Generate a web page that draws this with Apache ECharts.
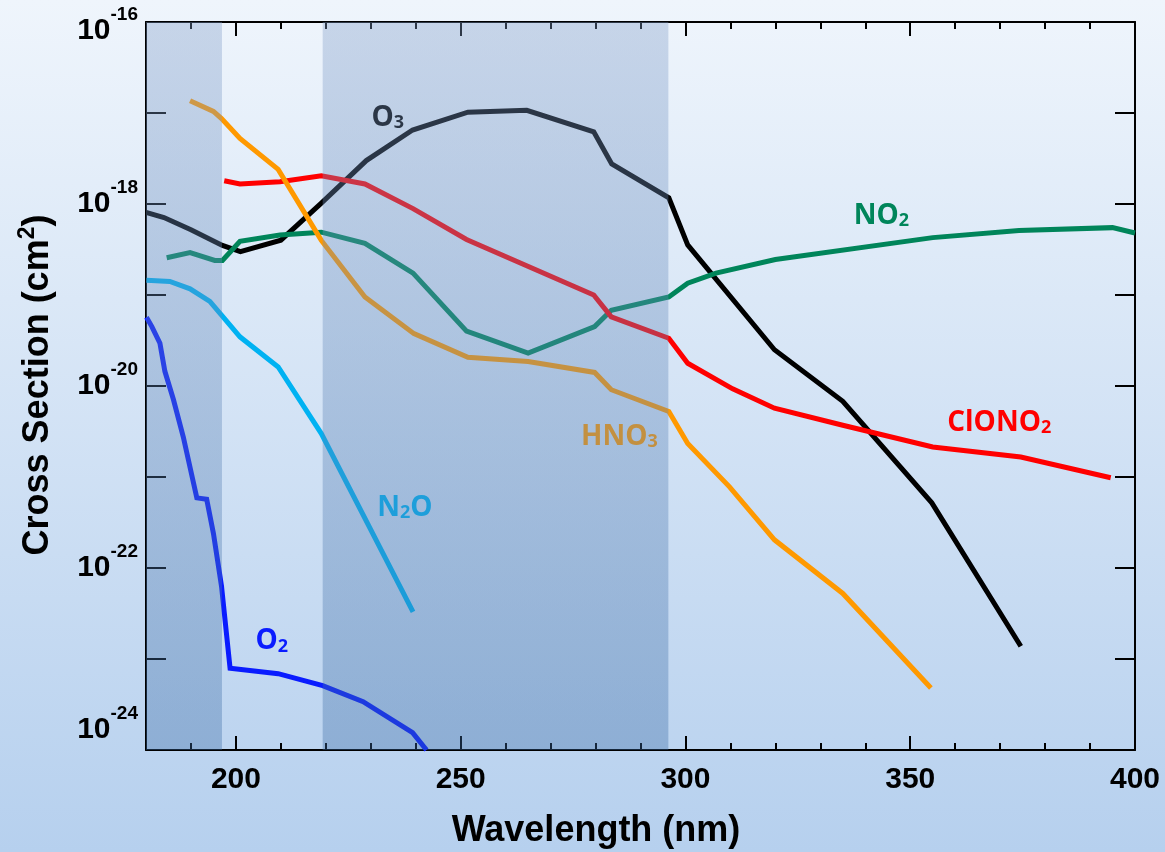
<!DOCTYPE html>
<html>
<head>
<meta charset="utf-8">
<script src="https://cdn.jsdelivr.net/npm/echarts@6/dist/echarts.min.js"></script>
<style>
html,body{margin:0;padding:0;width:1165px;height:852px;overflow:hidden;}
#chart{width:1165px;height:852px;}
</style>
</head>
<body>
<div id="chart"></div>
<script>
// ---------- data (wavelength nm, cross section cm^2) ----------
const o3Wl   = [180, 184, 190, 197, 201, 210, 219, 229, 239.3, 251.6, 264.7, 279.6, 283.6, 296.3, 300.5, 319.8, 335, 354.8, 374.6];
const o3Xs   = [8.1e-19, 7.1e-19, 5.2e-19, 3.5e-19, 3.0e-19, 4.0e-19, 1.02e-18, 3.0e-18, 6.5e-18, 1.02e-17, 1.07e-17, 6.2e-18, 2.75e-18, 1.17e-18, 3.55e-19, 2.5e-20, 6.8e-21, 5.2e-22, 1.38e-23];

const no2Wl  = [184.6, 189.8, 195.3, 197, 200.9, 209.8, 219, 228.7, 239.4, 251.3, 265, 279.8, 283.5, 296.3, 300.5, 306.8, 320, 355, 374.2, 395, 400];
const no2Xs  = [2.57e-19, 2.92e-19, 2.4e-19, 2.4e-19, 3.9e-19, 4.57e-19, 4.9e-19, 3.7e-19, 1.74e-19, 4.0e-20, 2.3e-20, 4.5e-20, 6.8e-20, 9.5e-20, 1.35e-19, 1.74e-19, 2.45e-19, 4.27e-19, 5.1e-19, 5.5e-19, 4.8e-19];

const clono2Wl = [197.4, 200.9, 209.8, 219, 228.7, 239.4, 251.3, 279.6, 283.5, 296.3, 300.5, 310.5, 319.8, 335, 355, 374.6, 394.6];
const clono2Xs = [1.8e-18, 1.66e-18, 1.76e-18, 2.04e-18, 1.66e-18, 8.9e-19, 4.07e-19, 1.0e-19, 5.75e-20, 3.35e-20, 1.78e-20, 9.3e-21, 5.7e-21, 3.7e-21, 2.14e-21, 1.66e-21, 9.8e-22];

const hno3Wl = [189.8, 195, 196.8, 200.9, 209.4, 219, 228.7, 239.6, 251.6, 265, 279.8, 283.5, 296.3, 300.5, 309.8, 319.8, 335, 354.6];
const hno3Xs = [1.36e-17, 1.04e-17, 8.7e-18, 5.25e-18, 2.4e-18, 3.98e-19, 9.5e-20, 3.76e-20, 2.07e-20, 1.86e-20, 1.41e-20, 9.1e-21, 5.25e-21, 2.34e-21, 7.8e-22, 2.04e-22, 5.25e-23, 4.8e-24];

const n2oWl  = [180.1, 185.3, 189.8, 194.2, 196.8, 200.9, 209.4, 219, 239.4];
const n2oXs  = [1.45e-19, 1.41e-19, 1.17e-19, 8.5e-20, 6.0e-20, 3.47e-20, 1.62e-20, 3.0e-21, 3.3e-23];

const o2Wl   = [180.1, 181.3, 183.1, 184.2, 186.1, 188.3, 191.3, 193.5, 195, 196.8, 198.7, 209.4, 219.3, 228.3, 239.3, 242.4];
const o2Xs   = [5.7e-20, 4.5e-20, 2.95e-20, 1.45e-20, 7.1e-21, 2.75e-21, 5.9e-22, 5.7e-22, 2.4e-22, 6.3e-23, 7.9e-24, 6.9e-24, 5.1e-24, 3.4e-24, 1.55e-24, 1.0e-24];

// shaded wavelength bands
const bands = [[180, 196.9], [219.3, 296.2]];

// axis ranges and ticks
const xMin = 180, xMax = 400;
const yMinExp = -24, yMaxExp = -16;
const xMajorTicks = [200, 250, 300, 350, 400];

// species label anchors [wavelength, cross section]
const labelNames = ['O3', 'NO2', 'ClONO2', 'HNO3', 'N2O', 'O2'];
const labelAnchors = [[233.8, 9.1e-18], [343.6, 7.6e-19], [369.8, 4.0e-21], [285.3, 2.8e-21], [237.6, 4.7e-22], [208, 1.6e-23]];

// ---------- chart ----------
const colors = {O3:'#000000', NO2:'#00855a', ClONO2:'#ff0000', HNO3:'#ff9900', N2O:'#00b2f2', O2:'#0a1cff'};
const labelText = {
  O3: '{m|O}{s|3}', NO2: '{m|NO}{s|2}', ClONO2: '{m|ClONO}{s|2}',
  HNO3: '{m|HNO}{s|3}', N2O: '{m|N}{s|2}{m|O}', O2: '{m|O}{s|2}'
};

function pairs(wl, xs){ return wl.map((w,i)=>[w, xs[i]]); }

function speciesSeries(name, wl, xs){
  const idx = labelNames.indexOf(name);
  return {
    name: name, type:'line', data: pairs(wl, xs), symbol:'none', z:2,
    lineStyle:{color: colors[name], width:5, join:'miter'},
    itemStyle:{color: colors[name]},
    markPoint:{
      z:3, symbol:'circle', symbolSize:0,
      data:[{coord: labelAnchors[idx]}],
      label:{
        show:true, position:'inside', formatter: labelText[name],
        rich:{
          m:{fontFamily:'Open Sans', fontWeight:'bold', fontSize:28, lineHeight:30, color: colors[name], verticalAlign:'bottom'},
          s:{fontFamily:'Open Sans', fontWeight:'bold', fontSize:18, lineHeight:21, color: colors[name], verticalAlign:'bottom'}
        }
      }
    }
  };
}

const tickStyle = {color:'#000', width:2};
const axisFont = 'Liberation Sans';

function xAx(position, major, withLabels){
  const a = {
    type:'value', min:xMin, max:xMax, position: position,
    axisLine:{show: major, onZero:false, lineStyle:{color:'#000', width:2}},
    splitLine:{show:false},
    axisTick:{show:true, inside:true, length: major ? 14 : 7, lineStyle: tickStyle},
    axisLabel:{show:false}
  };
  if (major) {
    a.axisTick.customValues = xMajorTicks;
    if (withLabels) a.axisLabel = {show:true, customValues: xMajorTicks, margin:15, fontFamily: axisFont, fontWeight:'bold', fontSize:30, color:'#000'};
  } else {
    a.interval = 10;
  }
  return a;
}

const xAxes = [xAx('bottom', true, true), xAx('bottom', false, false), xAx('top', true, false), xAx('top', false, false)];

const yRich = {
  b:{fontFamily: axisFont, fontWeight:'bold', fontSize:30, lineHeight:30, fill:'#000', color:'#000', verticalAlign:'bottom'},
  s:{fontFamily: axisFont, fontWeight:'bold', fontSize:19, lineHeight:10, fill:'#000', color:'#000', verticalAlign:'bottom', padding:[0,0,22,0]},
  sp:{fontSize:10, lineHeight:48, verticalAlign:'bottom'},
  b2:{fontFamily: axisFont, fontWeight:'bold', fontSize:30, lineHeight:30, fill:'#000', color:'#000', verticalAlign:'bottom', padding:[0,0,20,0]},
  s2:{fontFamily: axisFont, fontWeight:'bold', fontSize:19, lineHeight:10, fill:'#000', color:'#000', verticalAlign:'bottom', padding:[0,0,42,0]}
};

function yAx(position, withLabels){
  return {
    type:'log', min:Math.pow(10, yMinExp), max:Math.pow(10, yMaxExp), interval:1, position: position,
    axisLine:{show:true, onZero:false, lineStyle:{color:'#000', width:2}},
    splitLine:{show:false},
    axisTick:{show:true, inside:true, length:20, lineStyle: tickStyle},
    axisLabel: withLabels ? {
      show:true, margin:8, showMinLabel:true, showMaxLabel:true,
      formatter: function(v){
        const e = Math.round(Math.log10(v));
        if (!isFinite(e) || e % 2 !== 0 || e === yMinExp) return '';
        if (e === yMaxExp) return '{sp| }{b|10}{s|' + e + '}';
        return '{b|10}{s|' + e + '}';
      },
      rich: yRich
    } : {show:false}
  };
}
const yAxes = [yAx('left', true), yAx('right', false)];

const bandSeries = {
  name:'bands', type:'line', data:[], symbol:'none', silent:true,
  markArea:{
    z:10, silent:true,
    itemStyle:{
      color:{type:'linear', x:0, y:0, x2:0, y2:1, colorStops:[
        {offset:0, color:'rgba(129,157,200,0.36)'},
        {offset:1, color:'rgba(58,107,165,0.36)'}
      ]}
    },
    data: bands.map(b => [{xAxis:b[0]}, {xAxis:b[1]}])
  }
};

const titleGraphics = [
  {id:'xname', type:'text', x:596, y:831, z:20,
   style:{text:'Wavelength (nm)', fontFamily: axisFont, fontWeight:'bold', fontSize:36, fill:'#000', align:'center', verticalAlign:'middle'}},
  {id:'yname', type:'text', x:36, y:385, rotation: Math.PI/2, z:20,
   style:{text:'{a|Cross Section (cm}{s|2}{a|)}', align:'center', verticalAlign:'middle',
     rich:{
       a:{fontFamily: axisFont, fontWeight:'bold', fontSize:36, lineHeight:40, fill:'#000', verticalAlign:'bottom'},
       s:{fontFamily: axisFont, fontWeight:'bold', fontSize:23, lineHeight:22, fill:'#000', verticalAlign:'top'}
     }}}
];

const chart = echarts.init(document.getElementById('chart'));
chart.setOption({
  animation:false,
  backgroundColor:{type:'linear', x:0, y:0, x2:0, y2:1, colorStops:[
    {offset:0, color:'#eff5fc'}, {offset:1, color:'#b6d0ee'}
  ]},
  grid:{left:146, right:30, top:22, bottom:102, containLabel:false, outerBoundsMode:'none'},
  xAxis: xAxes,
  yAxis: yAxes,
  graphic: titleGraphics,
  series:[
    speciesSeries('O3', o3Wl, o3Xs),
    speciesSeries('NO2', no2Wl, no2Xs),
    speciesSeries('ClONO2', clono2Wl, clono2Xs),
    speciesSeries('HNO3', hno3Wl, hno3Xs),
    speciesSeries('N2O', n2oWl, n2oXs),
    speciesSeries('O2', o2Wl, o2Xs),
    bandSeries
  ]
});

// bottom y label placed through the axis scale (axis min label)
const minPx = chart.convertToPixel({yAxisIndex:0}, Math.pow(10, yMinExp));
const leftPx = chart.convertToPixel({xAxisIndex:0}, xMin);
chart.setOption({
  graphic: titleGraphics.concat([
    {id:'ymin', type:'text', x:leftPx - 8, y:minPx, z:20,
     style:{text:'{b2|10}{s2|' + yMinExp + '}', align:'right', verticalAlign:'middle', rich: yRich}}
  ])
});
</script>
</body>
</html>
